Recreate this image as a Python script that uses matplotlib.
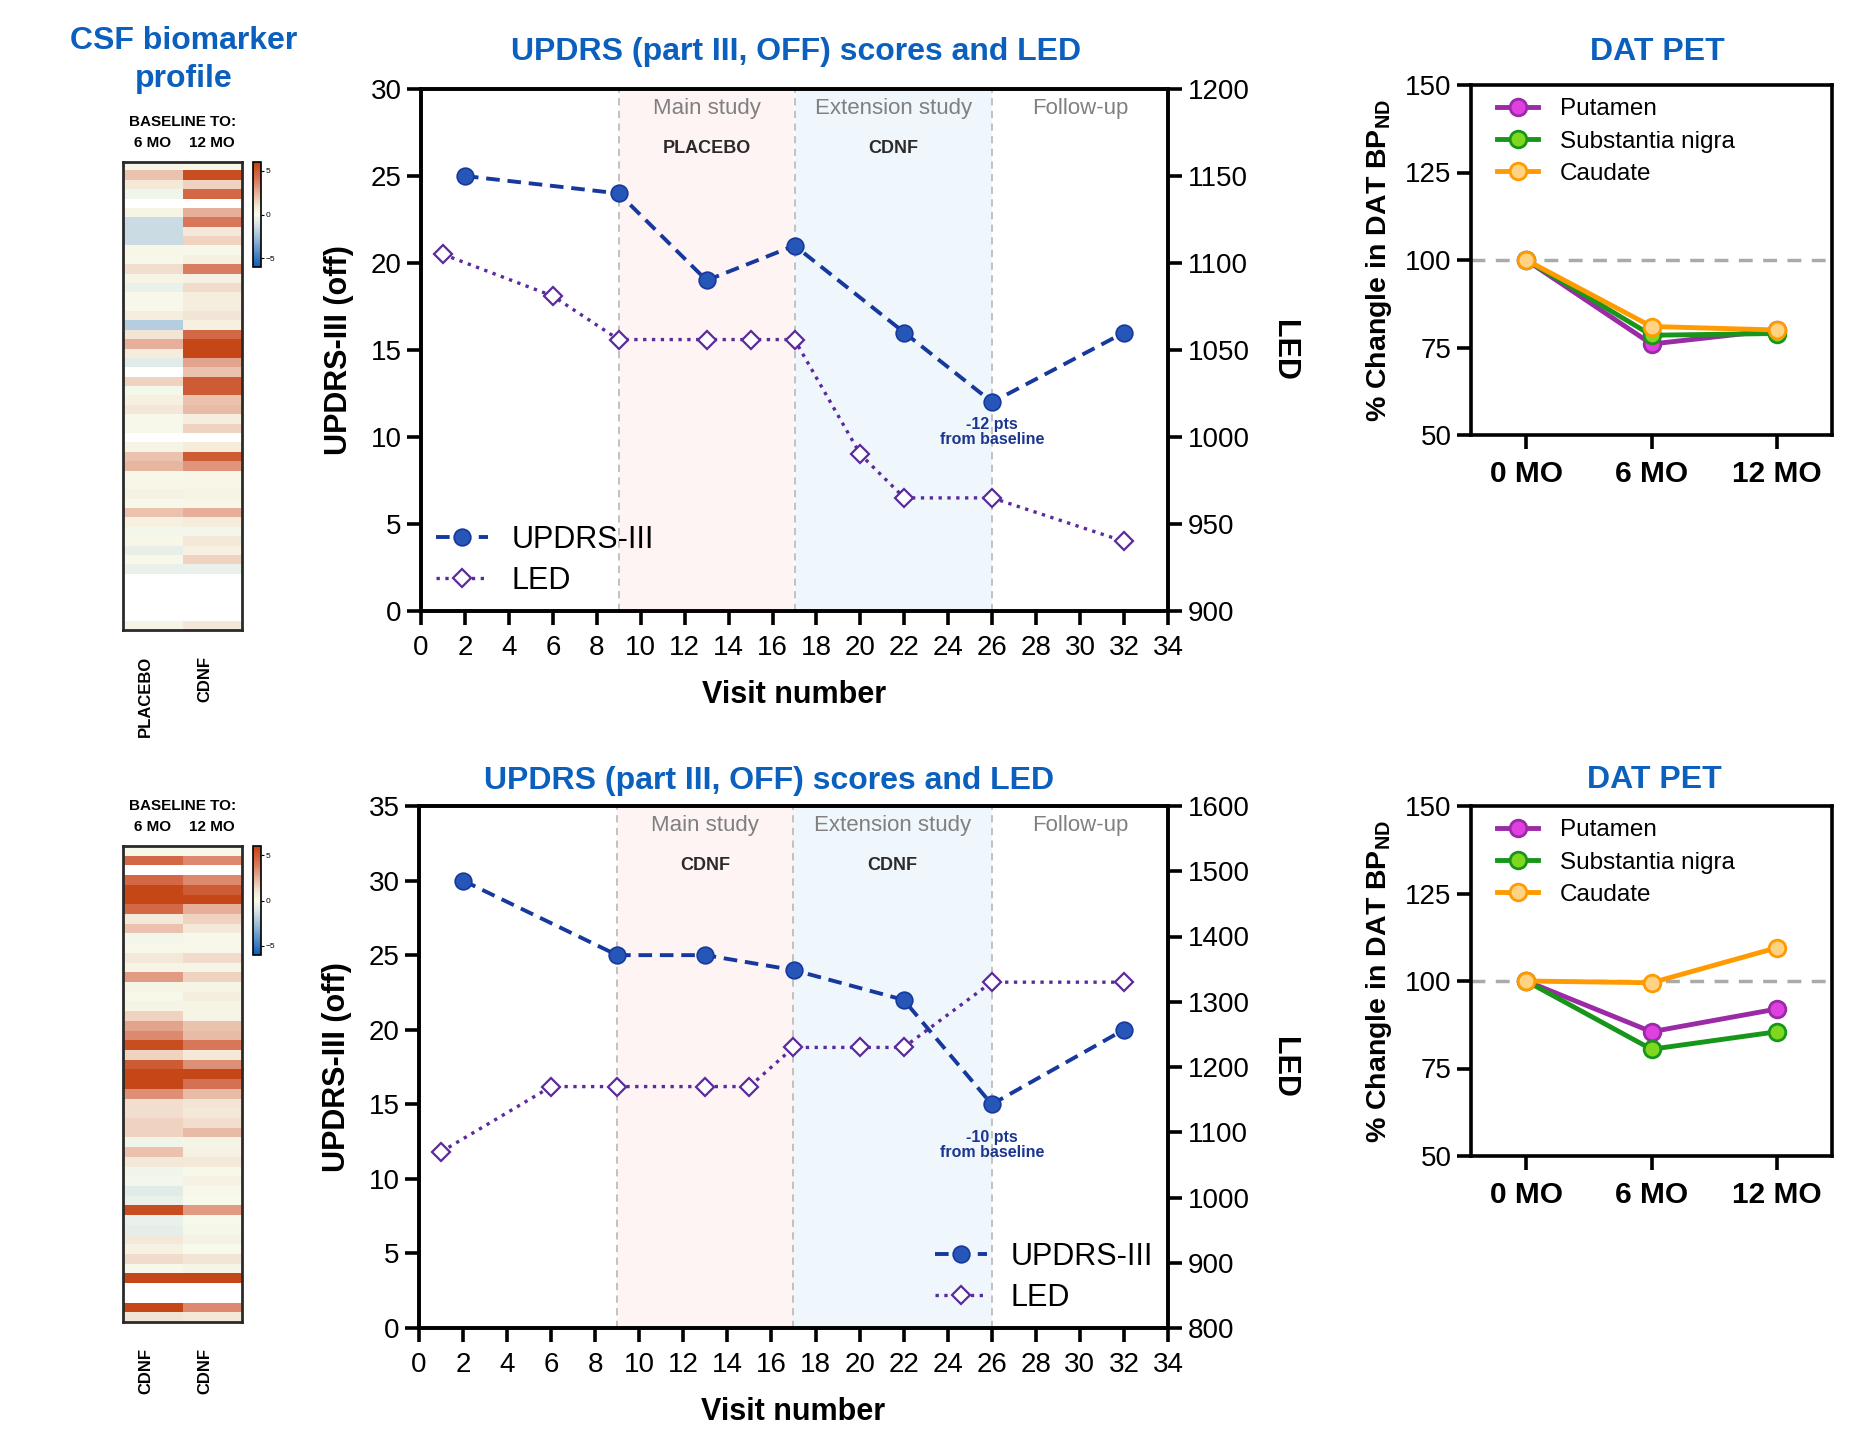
import numpy as np
import matplotlib
matplotlib.use("Agg")
import matplotlib.pyplot as plt
from matplotlib.colors import LinearSegmentedColormap
from matplotlib.lines import Line2D

plt.rcParams['font.family'] = ['Liberation Sans', 'DejaVu Sans']
plt.rcParams['mathtext.fontset'] = 'custom'
plt.rcParams['mathtext.bf'] = 'Liberation Sans:bold'
plt.rcParams['mathtext.rm'] = 'Liberation Sans'

# ---- CSF heatmaps (change from baseline) ----
nan = np.nan
top_6mo = [0.3, 2, 0.8, -0.3, nan, 0.3, -1.5, -1.5, -1.5, 0.2, 0.1, 1.2, 0.3, -0.5, 0.1, 0.1, 0.6,
           -2, 1.0, 2.5, 0.7, -0.8, nan, 1.5, -0.1, 0.5, 0.9, 0.1, 0.1, nan, 0.3, 2, 2.3, 0.1, 0.2,
           0.4, 0.1, 2, 0.5, -0.2, 0.2, -0.6, 0.1, -0.5, nan, nan, nan, nan, nan, 0.3]
top_12mo = [0.2, 5.5, 1.5, 4.5, nan, 2.5, 4, 0.8, 1.5, 0.1, 0.5, 3.8, 0.4, 1.3, 0.6, 0.6, 1.0,
            0.5, 4.5, 5.8, 5.8, 2.8, 2, 5, 5, 2, 2.2, 0.6, 1.5, nan, 0.7, 5, 3.2, 0.2, 0.2,
            0.3, 0.2, 2.5, 0.7, -0.2, 0.8, 0.5, 1.5, -0.5, nan, nan, nan, nan, nan, 0.8]
bot_6mo = [0.1, 4.5, nan, 4.5, 5.8, 5.8, 4.5, 0.8, 2, -0.2, 0.1, 0.8, 0.3, 3, 0.3, 0.1, 0.3, 1.5,
           2.8, 3.5, 5.5, 1.5, 5, 5.8, 5.8, 3.3, 1.2, 1.2, 1.5, 1.5, -0.3, 2, 0.8, -0.3, -0.2,
           -0.8, -0.5, 5.5, -0.5, -0.7, 0.8, 0.4, 1.3, 0.1, 5.8, nan, nan, 5.8, 1.0]
bot_12mo = [0.1, 3.5, nan, 3.5, 5, 5.8, 2.5, 1.5, 0.8, 0.1, 0.1, 1.3, 0.3, 1.5, 0.3, 0.6, 0.3, 0.3,
            2, 2.2, 4, 0.8, 3.3, 5.8, 4.2, 2.2, 1.0, 0.8, 1.2, 2.2, 0.3, 0.4, 0.8, 0.1, 0.4,
            0.1, 0.0, 3, 0, -0.1, 0.4, 0.0, 1.0, 0.3, 5.8, nan, nan, 3.5, 0.8]
top_groups = ['PLACEBO', 'CDNF']
bot_groups = ['CDNF', 'CDNF']

# ---- UPDRS-III and LED by visit ----
top_updrs_visit = [2, 9, 13, 17, 22, 26, 32]
top_updrs = [25, 24, 19, 21, 16, 12, 16]
top_led_visit = [1, 6, 9, 13, 15, 17, 20, 22, 26, 32]
top_led = [1105, 1081, 1056, 1056, 1056, 1056, 990, 965, 965, 940]
bot_updrs_visit = [2, 9, 13, 17, 22, 26, 32]
bot_updrs = [30, 25, 25, 24, 22, 15, 20]
bot_led_visit = [1, 6, 9, 13, 15, 17, 20, 22, 26, 32]
bot_led = [1070, 1170, 1170, 1170, 1170, 1230, 1230, 1230, 1330, 1330]
phase_edges = [9, 17, 26, 34]
phase_names = ['Main study', 'Extension study', 'Follow-up']
top_treat = ['PLACEBO', 'CDNF', '']
bot_treat = ['CDNF', 'CDNF', '']

# ---- DAT PET ----
months = ['0 MO', '6 MO', '12 MO']
top_putamen = [100, 76, 80]
top_sn = [100, 78.5, 79]
top_caudate = [100, 81, 80]
bot_putamen = [100, 85.5, 92]
bot_sn = [100, 80.5, 85.5]
bot_caudate = [100, 99.5, 109.5]

W, H = 1860, 1434
BLUE_T = '#0b5fbd'


def rect(x0, y0, x1, y1):
    return [x0 / W, 1 - y1 / H, (x1 - x0) / W, (y1 - y0) / H]


cmap = LinearSegmentedColormap.from_list('csf', [
    (0.0, '#0b5cb5'), (0.25, '#8fb3d6'), (5 / 12, '#dde8e8'), (0.5, '#f8fbec'),
    (7 / 12, '#f4e6d6'), (8.5 / 12, '#e6b09a'), (10 / 12, '#d8775a'), (1.0, '#c4410f')])
cmap.set_bad('white')

fig = plt.figure(figsize=(W / 100, H / 100), dpi=100)


def heatmap(box, cbox, c6, c12, groups, y_head):
    ax = fig.add_axes(rect(*box))
    data = np.array([c6, c12]).T
    im = ax.imshow(data, cmap=cmap, vmin=-6, vmax=6, aspect='auto', interpolation='nearest')
    ax.set_xticks([])
    ax.set_yticks([])
    for s in ax.spines.values():
        s.set_linewidth(2)
        s.set_color('#2a2a2a')
    cx = (box[0] + box[2]) / 2
    fig.text(cx / W, 1 - y_head / H, 'BASELINE TO:', ha='center', va='center',
             fontsize=11, fontweight='bold')
    colw = (box[2] - box[0]) / 2
    for i, lab in enumerate(['6 MO', '12 MO']):
        fig.text((box[0] + colw * (i + 0.5)) / W, 1 - (y_head + 21) / H, lab,
                 ha='center', va='center', fontsize=11, fontweight='bold')
        fig.text((box[0] + colw * (i + 0.5) - 7) / W, 1 - (box[3] + 26) / H, groups[i],
                 ha='center', va='top', rotation=90, fontsize=12, fontweight='bold')
    cax = fig.add_axes(rect(*cbox))
    cb = fig.colorbar(im, cax=cax, ticks=[-5, 0, 5])
    cb.outline.set_linewidth(1.2)
    cax.tick_params(labelsize=6, length=2, width=0.8, pad=1.5)


heatmap((123, 162, 242, 630), (253, 162, 261, 267), top_6mo, top_12mo, top_groups, 122)
heatmap((123, 846, 242, 1322), (253, 846, 261, 955), bot_6mo, bot_12mo, bot_groups, 806)
fig.text(184 / W, 1 - 60 / H, 'CSF biomarker\nprofile', ha='center', va='center',
         fontsize=23, fontweight='bold', color=BLUE_T, linespacing=1.35)


def updrs_panel(box, visits_u, updrs, visits_l, led, ymax, led_lim, led_step, treat,
                note, note_y, legend_loc, title_x, title_y):
    ax = fig.add_axes(rect(*box))
    ax2 = ax.twinx()
    # ax2 (LED) sits below ax (UPDRS); background phases live on ax2
    ax.set_zorder(ax2.get_zorder() + 1)
    ax.patch.set_visible(False)
    ax2.axvspan(phase_edges[0], phase_edges[1], color='#fdf4f3', zorder=0, lw=0)
    ax2.axvspan(phase_edges[1], phase_edges[2], color='#eff7fc', zorder=0, lw=0)
    for xv in phase_edges[:3]:
        ax2.axvline(xv, color='#bdbdbd', lw=1.3, dashes=(4, 3), zorder=1)
    ax2.plot(visits_l, led, color='#5b2a9d', lw=2.4, ls=':', marker='D', ms=9,
             mfc='white', mec='#5b2a9d', mew=1.6, zorder=3)
    for i, name in enumerate(phase_names):
        xc = (phase_edges[i] + phase_edges[i + 1]) / 2
        ax.text(xc, ymax * 0.962, name, ha='center', va='center', fontsize=16, color='#808080')
        if treat[i]:
            ax.text(xc, ymax * 0.886, treat[i], ha='center', va='center', fontsize=13,
                    fontweight='bold', color='#2a2a2a')
    ax.plot(visits_u, updrs, color='#17389c', lw=2.8, dashes=(3.5, 2), marker='o', ms=12,
            mfc='#2556b8', mec='#17389c', mew=1.2, zorder=4)
    ax.text(26, note_y, note, ha='center', va='center', fontsize=11.5, fontweight='bold',
            color='#1b3590', linespacing=1.0, zorder=5)

    ax.set_xlim(0, 34)
    ax.set_xticks(range(0, 35, 2))
    ax.set_ylim(0, ymax)
    ax.set_yticks(range(0, ymax + 1, 5))
    ax2.set_ylim(*led_lim)
    ax2.set_yticks(np.arange(led_lim[0], led_lim[1] + 1, led_step))
    for a in (ax, ax2):
        for s in a.spines.values():
            s.set_linewidth(2.6)
        a.tick_params(direction='out', length=10, width=2.6, labelsize=20, pad=4)
    ax.tick_params(axis='x', pad=7)
    ax.set_ylabel('UPDRS-III (off)', fontsize=22, fontweight='bold', labelpad=12)
    ax2.set_ylabel('LED', fontsize=22, fontweight='bold', rotation=270, labelpad=36)
    ax.set_xlabel('Visit number', fontsize=22, fontweight='bold', labelpad=14)

    handles = [Line2D([], [], color='#17389c', lw=2.8, dashes=(3.5, 2), marker='o', ms=12,
                      mfc='#2556b8', mec='#17389c', mew=1.2),
               Line2D([], [], color='#5b2a9d', lw=2.4, ls=':', marker='D', ms=9,
                      mfc='white', mec='#5b2a9d', mew=1.6)]
    ax.legend(handles, ['UPDRS-III', 'LED'], loc=legend_loc, frameon=False, fontsize=22,
              handlelength=1.7, handletextpad=0.75, labelspacing=0.35, borderaxespad=0.1)
    fig.text(title_x / W, 1 - title_y / H, 'UPDRS (part III, OFF) scores and LED',
             ha='center', va='center', fontsize=23, fontweight='bold', color=BLUE_T)


updrs_panel((421, 89, 1168, 611), top_updrs_visit, top_updrs, top_led_visit, top_led, 30,
            (900, 1200), 50, top_treat, '-12 pts\nfrom baseline', 10.3, 'lower left', 796, 52)
updrs_panel((419, 806, 1168, 1328), bot_updrs_visit, bot_updrs, bot_led_visit, bot_led, 35,
            (800, 1600), 100, bot_treat, '-10 pts\nfrom baseline', 12.3, 'lower right', 769, 781)


def dat_panel(box, put, sn, cau, title_x, title_y):
    ax = fig.add_axes(rect(*box))
    x = np.arange(len(months))
    ax.axhline(100, color='#aaaaaa', lw=2.5, dashes=(4, 3), zorder=1)
    ax.plot(x, put, color='#9a2aa6', lw=3.5, marker='o', ms=12, mfc='#e040e0', mec='#9a2aa6',
            mew=2, label='Putamen', zorder=3)
    ax.plot(x, sn, color='#17961a', lw=3.5, marker='o', ms=12, mfc='#7fd81f', mec='#17961a',
            mew=2, label='Substantia nigra', zorder=3)
    ax.plot(x, cau, color='#ff9a00', lw=3.5, marker='o', ms=12, mfc='#ffd384', mec='#ff9a00',
            mew=2, label='Caudate', zorder=4)
    ax.set_xlim(-0.44, 2.44)
    ax.set_ylim(50, 150)
    ax.set_yticks([50, 75, 100, 125, 150])
    ax.set_xticks(x)
    ax.set_xticklabels(months, fontsize=21.5, fontweight='bold')
    for s in ax.spines.values():
        s.set_linewidth(2.6)
    ax.tick_params(direction='out', length=10, width=2.6, labelsize=20, pad=4)
    ax.tick_params(axis='x', labelsize=21.5, pad=8)
    ax.set_ylabel(r'% Changle in DAT BP$_\mathbf{ND}$', fontsize=20.5, fontweight='bold',
                  labelpad=8)
    ax.legend(loc='upper left', bbox_to_anchor=(0.035, 1.0), frameon=False, fontsize=17.5,
              handlelength=1.7, handletextpad=0.9, labelspacing=0.42, borderaxespad=0.15)
    fig.text(title_x / W, 1 - title_y / H, 'DAT PET', ha='center', va='center',
             fontsize=23, fontweight='bold', color=BLUE_T)


dat_panel((1471, 85, 1832, 435), top_putamen, top_sn, top_caudate, 1657, 52)
dat_panel((1471, 806, 1832, 1156), bot_putamen, bot_sn, bot_caudate, 1654, 780)

fig.savefig('out.png', dpi=100)
